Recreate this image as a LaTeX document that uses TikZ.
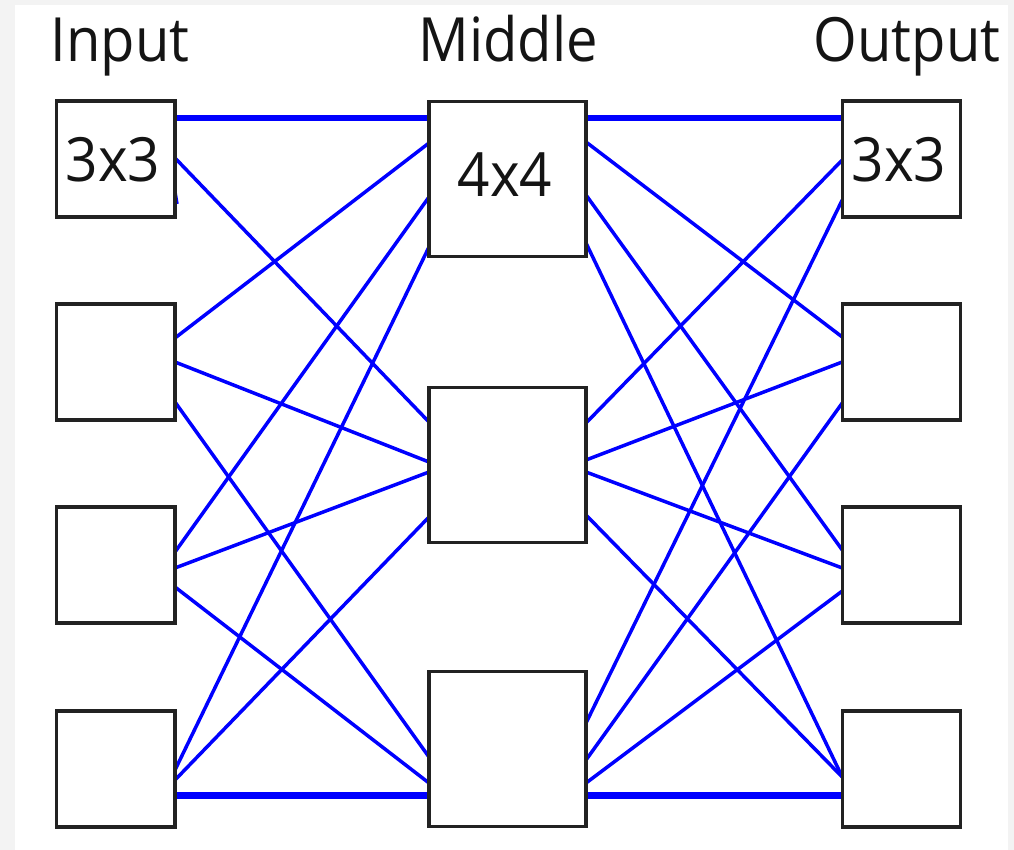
\documentclass[tikz,border=0pt]{standalone}
\usepackage{fontspec}
\setmainfont{Open Sans}
\begin{document}
\begin{tikzpicture}[x=1pt,y=-1pt,
  box/.style={draw=boxgray,line width=3.3pt,fill=white,outer sep=0pt,inner sep=0pt},
  ibox/.style={box,minimum width=118.5pt,minimum height=116pt},
  mbox/.style={box,minimum width=157pt,minimum height=155pt},
  wire/.style={draw=wireblue,line width=3.5pt},
  trunk/.style={wire,line width=5.5pt},
  trunkb/.style={wire,line width=7pt},
  lbl/.style={anchor=base,inner sep=0pt,text=txt,font=\fontsize{61}{61}\selectfont}]
\definecolor{boxgray}{HTML}{222222}
\definecolor{wireblue}{HTML}{0000FF}
\definecolor{txt}{HTML}{141414}
\definecolor{edge}{HTML}{F3F3F3}
% page and white sheet
\fill[edge] (0,0) rectangle (1014,850);
\fill[white] (15,5) rectangle (1008,850);
\useasboundingbox (0,0) rectangle (1014,850);

% stage headings
\node[lbl] (hin)  at (120,62) {\scalebox{0.92}[1]{Input}};
\node[lbl] (hmid) at (508,62) {\scalebox{0.92}[1]{Middle}};
\node[lbl] (hout) at (907,62) {\scalebox{0.92}[1]{Output}};

% switch boxes (placed first so wires can reference them, outlined again on top later)
\foreach \n/\y in {1/159,2/362,3/565,4/769}{
  \node[ibox] (I\n) at (115.75,\y) {};
  \node[ibox] (O\n) at (901.5,\y) {};
}
\foreach \n/\y in {1/179,2/465,3/749}{
  \node[mbox] (M\n) at (507.5,\y) {};
}

% wire between two boxes, offsets measured downward from the box centres
\newcommand{\wirelr}[5][wire]{\draw[#1] ([yshift=-#3pt]#2.east) -- ([yshift=-#5pt]#4.west);}

% input -> middle
\wirelr[trunk]{I1}{-41}{M1}{-61}
\wirelr{I1}{-1}{M2}{-43}
\draw[wire] ([yshift=-33pt]I1.east) -- ([yshift=-45pt,xshift=2pt]I1.east);
\wirelr{I2}{-24}{M1}{-36}
\wirelr{I2}{0}{M2}{-3}
\wirelr{I2}{40}{M3}{8}
\wirelr{I3}{-13}{M1}{18}
\wirelr{I3}{3}{M2}{7}
\wirelr{I3}{22}{M3}{34}
\wirelr{I4}{1}{M1}{68}
\wirelr{I4}{11}{M2}{52}
\wirelr[trunkb]{I4}{26}{M3}{46}

% middle -> output
\wirelr[trunk]{M1}{-61}{O1}{-41}
\wirelr{M1}{-37}{O2}{-25}
\wirelr{M1}{16}{O3}{-15}
\wirelr{M1}{64}{O4}{8}
\wirelr{M2}{-42}{O1}{1}
\wirelr{M2}{-5}{O2}{0}
\wirelr{M2}{7}{O3}{3}
\wirelr{M2}{50}{O4}{8}
\wirelr{M3}{-26}{O1}{41}
\wirelr{M3}{11}{O2}{41}
\wirelr{M3}{34}{O3}{26}
\wirelr[trunkb]{M3}{46}{O4}{26}

% box outlines over the wire ends
\foreach \n in {1,2,3,4}{
  \draw[draw=boxgray,line width=3.3pt] (I\n.north west) rectangle (I\n.south east);
  \draw[draw=boxgray,line width=3.3pt] (O\n.north west) rectangle (O\n.south east);
}
\foreach \n in {1,2,3}{
  \draw[draw=boxgray,line width=3.3pt] (M\n.north west) rectangle (M\n.south east);
}

% switch sizes
\node[lbl] (t1) at (113,182) {\scalebox{0.93}[1]{3x3}};
\node[lbl] (t2) at (505,197) {\scalebox{0.93}[1]{4x4}};
\node[lbl] (t3) at (899,182) {\scalebox{0.93}[1]{3x3}};
\end{tikzpicture}
\end{document}
